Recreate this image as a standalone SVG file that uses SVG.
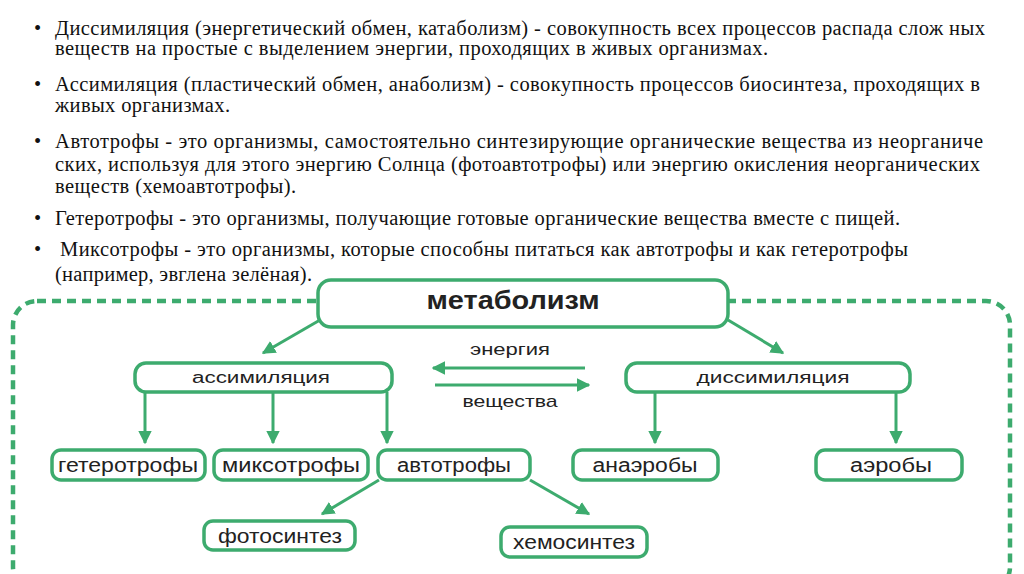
<svg xmlns="http://www.w3.org/2000/svg" width="1024" height="574" viewBox="0 0 1024 574">
<style>
.t{font-family:"Liberation Serif","Times New Roman",serif;font-size:20.5px;fill:#111}
.d{font-family:"Liberation Sans","DejaVu Sans",sans-serif;fill:#222;text-anchor:middle}
.box{fill:#fff;stroke:#3dab6e;stroke-width:3.5}
.ln{stroke:#3dab6e;stroke-width:3;fill:none}
</style>
<defs>
<marker id="ah" viewBox="0 0 10 10" refX="9" refY="5" markerWidth="4.5" markerHeight="4.5" orient="auto" markerUnits="strokeWidth">
<path d="M0,0 L10,5 L0,10 z" fill="#3dab6e"/>
</marker>
</defs>
<rect width="1024" height="574" fill="#fff"/>
<g id="text">
<text class="t" x="34" y="35">•</text>
<text class="t" x="55" y="35" textLength="930">Диссимиляция (энергетический обмен, катаболизм) - совокупность всех процессов распада слож ных</text>
<text class="t" x="55" y="55" textLength="713">веществ на простые с выделением энергии, проходящих в живых организмах.</text>
<text class="t" x="34" y="91">•</text>
<text class="t" x="55" y="91" textLength="925">Ассимиляция (пластический обмен, анаболизм) - совокупность процессов биосинтеза, проходящих в</text>
<text class="t" x="55" y="112" textLength="175">живых организмах.</text>
<text class="t" x="34" y="148">•</text>
<text class="t" x="55" y="148" textLength="928">Автотрофы - это организмы, самостоятельно синтезирующие органические вещества из неорганиче</text>
<text class="t" x="55" y="171" textLength="925">ских, используя для этого энергию Солнца (фотоавтотрофы) или энергию окисления неорганических</text>
<text class="t" x="55" y="193" textLength="241">веществ (хемоавтотрофы).</text>
<text class="t" x="34" y="225">•</text>
<text class="t" x="55" y="225" textLength="845">Гетеротрофы - это организмы, получающие готовые органические вещества вместе с пищей.</text>
<text class="t" x="34" y="256">•</text>
<text class="t" x="60" y="256" textLength="848">Миксотрофы - это организмы, которые способны питаться как автотрофы и как гетеротрофы</text>
<text class="t" x="55" y="281" textLength="257">(например, эвглена зелёная).</text>
</g>
<rect id="frame" x="13" y="301" width="997" height="290" rx="24" fill="none" stroke="#3dab6e" stroke-width="4.5" stroke-dasharray="9 6"/>
<g id="connectors">
<line class="ln" x1="320" y1="320" x2="263" y2="353" marker-end="url(#ah)"/>
<line class="ln" x1="728" y1="320" x2="783" y2="353" marker-end="url(#ah)"/>
<line class="ln" x1="585" y1="368" x2="433" y2="368" marker-end="url(#ah)"/>
<line class="ln" x1="435" y1="385" x2="589" y2="385" marker-end="url(#ah)"/>
<line class="ln" x1="145" y1="392" x2="145" y2="443" marker-end="url(#ah)"/>
<line class="ln" x1="273" y1="392" x2="273" y2="443" marker-end="url(#ah)"/>
<line class="ln" x1="387" y1="392" x2="387" y2="443" marker-end="url(#ah)"/>
<line class="ln" x1="655" y1="392" x2="655" y2="443" marker-end="url(#ah)"/>
<line class="ln" x1="896" y1="392" x2="896" y2="443" marker-end="url(#ah)"/>
<line class="ln" x1="379" y1="480" x2="322" y2="514" marker-end="url(#ah)"/>
<line class="ln" x1="530" y1="480" x2="589" y2="514" marker-end="url(#ah)"/>
<text class="d" x="510" y="355" font-size="17" textLength="80" lengthAdjust="spacingAndGlyphs">энергия</text>
<text class="d" x="510" y="407" font-size="17" textLength="95" lengthAdjust="spacingAndGlyphs">вещества</text>
</g>
<g id="metabolism">
<rect class="box" x="318" y="280" width="410" height="47" rx="13" stroke-width="5"/>
<text class="d" x="513" y="309" font-size="26" font-weight="bold" textLength="173" lengthAdjust="spacingAndGlyphs">метаболизм</text>
</g>
<g id="assimilation">
<rect class="box" x="135" y="363" width="257" height="29" rx="11"/>
<text class="d" x="261" y="383" font-size="16" textLength="138" lengthAdjust="spacingAndGlyphs">ассимиляция</text>
</g>
<g id="dissimilation">
<rect class="box" x="626" y="363" width="284" height="29" rx="11"/>
<text class="d" x="773" y="383" font-size="16" textLength="153" lengthAdjust="spacingAndGlyphs">диссимиляция</text>
</g>
<g id="heterotrophs">
<rect class="box" x="52" y="450" width="153" height="30" rx="9"/>
<text class="d" x="128" y="472" font-size="20" textLength="140" lengthAdjust="spacingAndGlyphs">гетеротрофы</text>
</g>
<g id="mixotrophs">
<rect class="box" x="214" y="450" width="154" height="30" rx="9"/>
<text class="d" x="291" y="472" font-size="20" textLength="138" lengthAdjust="spacingAndGlyphs">миксотрофы</text>
</g>
<g id="autotrophs">
<rect class="box" x="378" y="450" width="152" height="30" rx="9"/>
<text class="d" x="454" y="472" font-size="20" textLength="114" lengthAdjust="spacingAndGlyphs">автотрофы</text>
</g>
<g id="anaerobes">
<rect class="box" x="573" y="450" width="145" height="30" rx="9"/>
<text class="d" x="645" y="472" font-size="20" textLength="105" lengthAdjust="spacingAndGlyphs">анаэробы</text>
</g>
<g id="aerobes">
<rect class="box" x="816" y="450" width="146" height="30" rx="9"/>
<text class="d" x="891" y="472" font-size="20" textLength="82" lengthAdjust="spacingAndGlyphs">аэробы</text>
</g>
<g id="photosynthesis">
<rect class="box" x="204" y="521" width="151" height="29" rx="9"/>
<text class="d" x="280" y="543" font-size="20" textLength="124" lengthAdjust="spacingAndGlyphs">фотосинтез</text>
</g>
<g id="chemosynthesis">
<rect class="box" x="501" y="527" width="146" height="30" rx="9"/>
<text class="d" x="574" y="549" font-size="20" textLength="122" lengthAdjust="spacingAndGlyphs">хемосинтез</text>
</g>
</svg>
